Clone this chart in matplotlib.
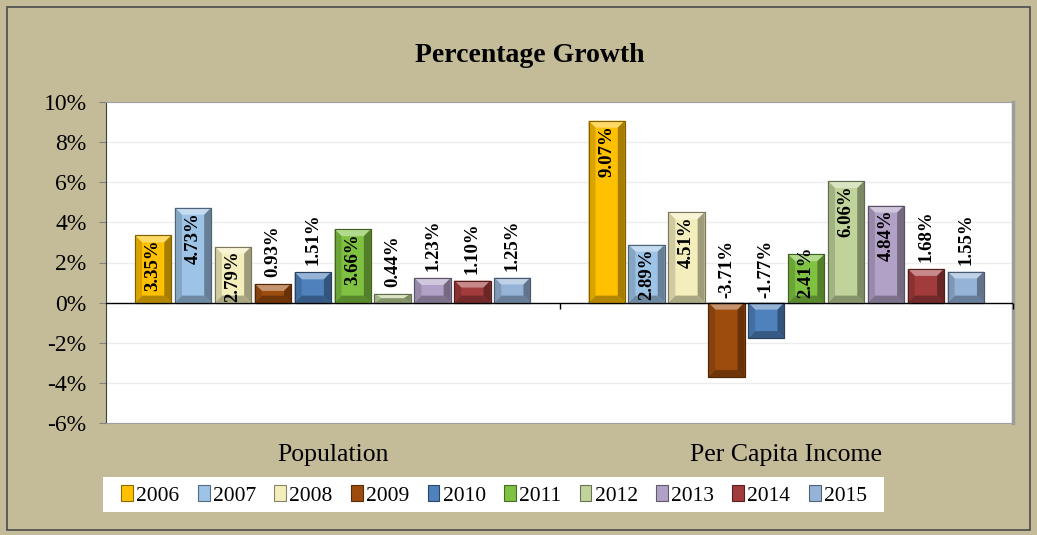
import matplotlib
matplotlib.use("Agg")
import matplotlib.pyplot as plt
from matplotlib.patches import Polygon, Rectangle
import matplotlib.colors as mcolors
import numpy as np

plt.rcParams['font.family'] = ['Liberation Serif', 'DejaVu Serif']

categories = ['Population', 'Per Capita Income']
years = ['2006', '2007', '2008', '2009', '2010', '2011', '2012', '2013', '2014', '2015']
population = [3.35, 4.73, 2.79, 0.93, 1.51, 3.66, 0.44, 1.23, 1.10, 1.25]
per_capita = [9.07, 2.89, 4.51, -3.71, -1.77, 2.41, 6.06, 4.84, 1.68, 1.55]
colors = ['#FFC000', '#9DC3E6', '#F3EEBB', '#9E4C0E', '#4F81BD',
          '#7FC241', '#BFD39A', '#B2A1C7', '#A23B3B', '#95B3D7']


def mix(c, other, t):
    a = np.array(mcolors.to_rgb(c))
    b = np.array(mcolors.to_rgb(other))
    return tuple(a * (1 - t) + b * t)


fig = plt.figure(figsize=(10.37, 5.35), dpi=100)
fig.patch.set_facecolor('#C4BC98')
fig.patches.append(Rectangle((7 / 1037, 5 / 535), 1023 / 1037, 523 / 535,
                             transform=fig.transFigure, fill=False,
                             edgecolor='#4A4A4A', lw=1.2))
# white legend panel
fig.patches.append(Rectangle((103 / 1037, 1 - 512 / 535), 781 / 1037, 35 / 535,
                             transform=fig.transFigure, facecolor='white',
                             edgecolor='none', zorder=0))

ax = fig.add_axes([106 / 1037, 1 - 423 / 535, 907 / 1037, 321 / 535])
ax.set_xlim(-0.5, 1.5)
ax.set_ylim(-6, 10)

step = 0.088
width = 0.080
x = np.arange(len(categories))
values = np.array([population, per_capita])  # shape (2 categories, 10 years)

px_x = ax.bbox.width / 2.0
px_y = ax.bbox.height / 16.0

for yy in np.arange(-6, 11, 2):
    if yy != 0:
        ax.axhline(yy, color='#EDEDED', lw=1, zorder=0)

for i, yr in enumerate(years):
    off = (i - 4.5) * step
    bars = ax.bar(x + off, values[:, i], width, color=colors[i],
                  edgecolor=mix(colors[i], 'black', 0.45), lw=0.8,
                  zorder=2, label=yr)
    for b, v in zip(bars, values[:, i]):
        x0 = b.get_x()
        x1 = x0 + b.get_width()
        yb, yt = sorted([b.get_y(), b.get_y() + b.get_height()])
        dx = min(7 / px_x, b.get_width() / 2)
        dy = min(7 / px_y, (yt - yb) / 2)
        faces = [
            ([(x0, yt), (x1, yt), (x1 - dx, yt - dy), (x0 + dx, yt - dy)], mix(colors[i], 'white', 0.4)),
            ([(x0, yb), (x1, yb), (x1 - dx, yb + dy), (x0 + dx, yb + dy)], mix(colors[i], 'black', 0.3)),
            ([(x0, yb), (x0, yt), (x0 + dx, yt - dy), (x0 + dx, yb + dy)], mix(colors[i], 'black', 0.15)),
            ([(x1, yb), (x1, yt), (x1 - dx, yt - dy), (x1 - dx, yb + dy)], mix(colors[i], 'black', 0.35)),
        ]
        for pts, fc in faces:
            ax.add_patch(Polygon(pts, closed=True, facecolor=fc, edgecolor='none', zorder=3))
        ax.add_patch(Rectangle((x0, yb), x1 - x0, yt - yb, fill=False,
                               edgecolor=mix(colors[i], 'black', 0.5), lw=0.8, zorder=4))

        # data labels, rotated like the original
        txt = '%.2f%%' % v
        xc = b.get_x() + b.get_width() / 2
        if v < 0:
            ax.annotate(txt, (xc, 0), xytext=(0, 3), textcoords='offset points',
                        rotation=90, ha='center', va='bottom',
                        fontsize=13.5, fontweight='bold', zorder=5)
        elif v * px_y < 55:
            if v >= 2.3:
                ax.annotate(txt, (xc, 0), xytext=(0, 3), textcoords='offset points',
                            rotation=90, ha='center', va='bottom',
                            fontsize=13.5, fontweight='bold', zorder=5)
            else:
                ax.annotate(txt, (xc, v), xytext=(0, 5), textcoords='offset points',
                            rotation=90, ha='center', va='bottom',
                            fontsize=13.5, fontweight='bold', zorder=5)
        else:
            ax.annotate(txt, (xc, v), xytext=(0, -3), textcoords='offset points',
                        rotation=90, ha='center', va='top',
                        fontsize=13.5, fontweight='bold', zorder=5)

ax.axhline(0, color='black', lw=1.0, zorder=6)
ax.vlines([0.5, 1.5], -0.3, 0, color='black', lw=1.0, zorder=6, clip_on=False)

ax.set_xticks(x)
ax.set_xticklabels(categories, fontsize=18.5)
ax.tick_params(axis='x', length=0, pad=15)
ax.set_yticks(np.arange(-6, 11, 2))
ax.set_yticklabels(['%d%%' % t for t in np.arange(-6, 11, 2)], fontsize=17)
ax.tick_params(axis='y', length=5, color='#808080', direction='out', pad=9)

for s in ['top', 'bottom']:
    ax.spines[s].set_color('#A0A0A0')
ax.spines['left'].set_color('#404040')
ax.spines['right'].set_color('#9C9C9C')
ax.spines['right'].set_linewidth(2.5)

fig.text(0.511, 1 - 56 / 535, 'Percentage Growth', ha='center', va='center',
         fontsize=20, fontweight='bold')

handles, labels = ax.get_legend_handles_labels()
leg = fig.legend(handles, labels, loc='center', ncol=10,
                 bbox_to_anchor=(494 / 1037, 1 - 495.5 / 535),
                 fontsize=15.5, frameon=False,
                 handlelength=0.55, handleheight=0.75, handletextpad=0.15,
                 columnspacing=0.85, borderpad=0.3)

fig.savefig('out.png', dpi=100, facecolor=fig.get_facecolor())
